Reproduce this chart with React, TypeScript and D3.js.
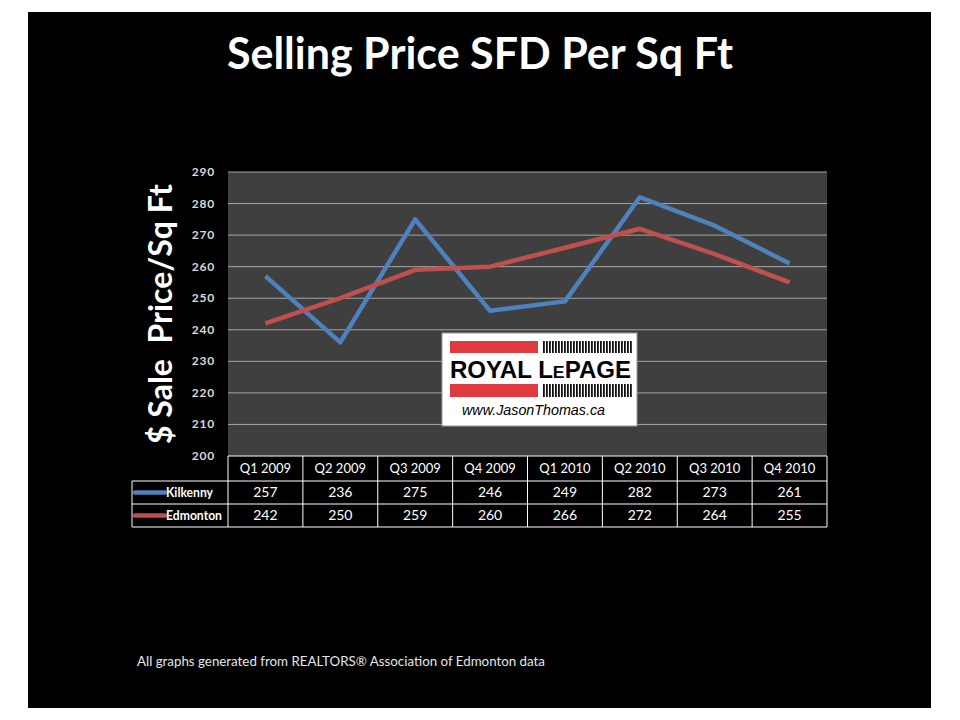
import React from 'react';
import * as d3 from 'd3';

const quarters = ['Q1 2009', 'Q2 2009', 'Q3 2009', 'Q4 2009', 'Q1 2010', 'Q2 2010', 'Q3 2010', 'Q4 2010'];
const kilkenny = [257, 236, 275, 246, 249, 282, 273, 261];
const edmonton = [242, 250, 259, 260, 266, 272, 264, 255];
const yTicks = [200, 210, 220, 230, 240, 250, 260, 270, 280, 290];

const series = [
  { name: 'Kilkenny', values: kilkenny, color: '#4f81bd', labelW: 47 },
  { name: 'Edmonton', values: edmonton, color: '#c0504d', labelW: 56 },
];

const font = 'Lato, "Open Sans", sans-serif';

const App = () => {
  const W = 960;
  const H = 720;
  const plot = { left: 228, right: 827, top: 172, bottom: 456 };

  const x = d3.scaleBand<string>().domain(quarters).range([plot.left, plot.right]);
  const y = d3.scaleLinear().domain([200, 290]).range([plot.bottom, plot.top]);

  const line = d3.line<number>()
    .x((_, i) => (x(quarters[i]) as number) + x.bandwidth() / 2)
    .y(d => y(d));

  const rowH = 23;
  const headerH = 25;
  const legendLeft = 132;

  return (
    <svg width={W} height={H} style={{ position: 'absolute', left: 0, top: 0, background: '#fff' }}>
      <rect x={28} y={12} width={903} height={696} fill="#000" />

      {/* Title */}
      <text x={480} y={69} textAnchor="middle" fill="#fff" fontFamily={font} fontWeight="bold" fontSize={43}>
        Selling Price SFD Per Sq Ft
      </text>

      {/* Plot area */}
      <rect x={plot.left} y={plot.top} width={plot.right - plot.left} height={plot.bottom - plot.top} fill="#3f3f3f" />
      {yTicks.map(t => (
        <g key={t}>
          {t > 200 && (
            <line x1={plot.left} x2={plot.right} y1={y(t)} y2={y(t)} stroke="#a6a6a6" strokeWidth={1} />
          )}
          <text x={215} y={y(t) + 4} textAnchor="end" fill="#d9d9d9" fontFamily={font} fontWeight="bold" fontSize={12} letterSpacing={0.8}>
            {t}
          </text>
        </g>
      ))}

      {/* Y axis title */}
      <text
        transform={`translate(172,${(plot.top + plot.bottom) / 2}) rotate(-90)`}
        textAnchor="middle"
        fill="#fff"
        fontFamily={font}
        fontWeight="bold"
        fontSize={32}
        style={{ whiteSpace: 'pre' }}
      >
        {'$ Sale  Price/Sq Ft'}
      </text>

      {/* Lines */}
      {series.map(s => (
        <path key={s.name} d={line(s.values) as string} fill="none" stroke={s.color} strokeWidth={4.5} strokeLinejoin="round" />
      ))}

      {/* Logo */}
      <g>
        <rect x={442} y={333} width={195} height={93} fill="#fff" stroke="#999" strokeWidth={1} />
        <rect x={450} y={341} width={88} height={12} fill="#e03a40" />
        <rect x={450} y={384} width={88} height={13} fill="#e03a40" />
        {d3.range(0, 30).map(i => (
          <g key={i}>
            <rect x={543 + i * 3} y={341} width={1.8} height={12} fill="#111" />
            <rect x={543 + i * 3} y={384} width={1.8} height={13} fill="#111" />
          </g>
        ))}
        <text x={450} y={378} fill="#000" fontFamily='"Liberation Sans", Arial, sans-serif' fontWeight="bold" fontSize={23} textLength={181} lengthAdjust="spacingAndGlyphs">
          ROYAL L<tspan fontSize={17}>E</tspan>PAGE
        </text>
        <text x={462} y={415} fill="#000" fontFamily='"Liberation Sans", Arial, sans-serif' fontStyle="italic" fontSize={14} textLength={143} lengthAdjust="spacingAndGlyphs">
          www.JasonThomas.ca
        </text>
      </g>

      {/* Data table */}
      <g fontFamily={font} fill="#fff">
        <line x1={plot.left} x2={plot.right} y1={plot.bottom} y2={plot.bottom} stroke="#fff" />
        {quarters.map(q => (
          <g key={q}>
            <line x1={x(q) as number} x2={x(q) as number} y1={plot.bottom} y2={plot.bottom + headerH + rowH * 2} stroke="#fff" />
            <text x={(x(q) as number) + x.bandwidth() / 2} y={plot.bottom + 17} textAnchor="middle" fontSize={13} fill="#fff">
              {q}
            </text>
          </g>
        ))}
        <line x1={plot.right} x2={plot.right} y1={plot.bottom} y2={plot.bottom + headerH + rowH * 2} stroke="#fff" />
        {series.map((s, r) => {
          const top = plot.bottom + headerH + r * rowH;
          return (
            <g key={s.name}>
              <line x1={legendLeft} x2={plot.right} y1={top} y2={top} stroke="#fff" />
              <line x1={135} x2={165} y1={top + rowH / 2} y2={top + rowH / 2} stroke={s.color} strokeWidth={4.5} strokeLinecap="round" />
              <text x={166} y={top + 16} fontSize={13} fontWeight="bold" fill="#fff" textLength={s.labelW} lengthAdjust="spacingAndGlyphs">
                {s.name}
              </text>
              {s.values.map((v, i) => (
                <text key={i} x={(x(quarters[i]) as number) + x.bandwidth() / 2} y={top + 16} textAnchor="middle" fontSize={14} fill="#fff">
                  {v}
                </text>
              ))}
            </g>
          );
        })}
        <line x1={legendLeft} x2={plot.right} y1={plot.bottom + headerH + rowH * 2} y2={plot.bottom + headerH + rowH * 2} stroke="#fff" />
        <line x1={legendLeft} x2={legendLeft} y1={plot.bottom + headerH} y2={plot.bottom + headerH + rowH * 2} stroke="#fff" />
      </g>

      {/* Footer */}
      <text x={137} y={666} fill="#e6e6e6" fontFamily={font} fontSize={13} textLength={408} lengthAdjust="spacingAndGlyphs">
        All graphs generated from REALTORS® Association of Edmonton data
      </text>
    </svg>
  );
};

export default App;
